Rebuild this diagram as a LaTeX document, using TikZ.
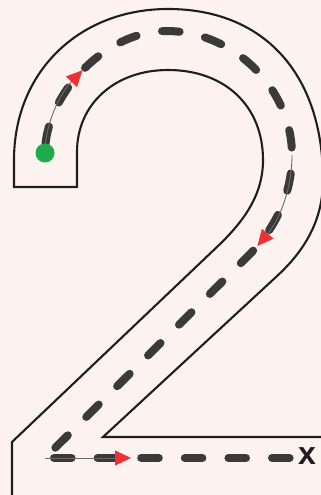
\documentclass[tikz,border=0pt]{standalone}
\usepackage{fontspec}
\setsansfont{Liberation Sans}
\usetikzlibrary{arrows.meta}
\definecolor{fig-paper}{HTML}{FCF3F0}
\definecolor{fig-ink}{HTML}{1E1E1E}
\definecolor{fig-lane}{HTML}{3A3A3A}
\definecolor{fig-guide}{HTML}{6A6A6A}
\definecolor{fig-arrow}{HTML}{EC3232}
\definecolor{fig-start}{HTML}{1FAA4E}

\begin{document}
\begin{tikzpicture}[
    x=1pt, y=-1pt,
    outline/.style={draw=fig-ink, line width=2.1pt, line join=miter},
    lane/.style={draw=fig-lane, line width=8pt, line cap=round, dash pattern=on 17.6pt off 26pt},
    guide/.style={draw=fig-guide, line width=0.9pt, -{Triangle[length=16pt, width=15pt, color=fig-arrow]}},
    startdot/.style={circle, fill=fig-start, minimum size=19pt, inner sep=0pt}
]
\useasboundingbox (0,0) rectangle (321,495);
\clip (0,0) rectangle (321,495);
\fill[fig-paper] (0,0) rectangle (321,495);

\draw[outline] (335,437) -- (103,437) -- (276,277) .. controls (300,255) and (323,225) .. (323,180)
    .. controls (323,74) and (264,9) .. (168,9)
    .. controls (79,9) and (14,72) .. (14,160)
    -- (14,187) -- (77,187) -- (77,152)
    .. controls (77,104) and (115,70) .. (168,70)
    .. controls (225,70) and (263,106) .. (263,160)
    .. controls (263,195) and (244,221) .. (218,246)
    -- (12,442) -- (12,505);

\coordinate (start) at (45,153);
\coordinate (bend) at (45,458);
\coordinate (rightmost) at (292,155);
\coordinate (lastdash) at (289.6,458);

\draw[lane, dash phase=29pt] (bend) -- (250,254) .. controls (275,228) and (292,195) .. (rightmost)
    .. controls (292,90) and (235,31) .. (166,31) .. controls (105,31) and (45,95) .. (start);
\draw[lane, dash phase=34.6pt] (bend) -- (lastdash);

\draw[guide] (start) .. controls (45,124) and (60,93.5) .. (82.6,70.25);
\draw[guide] (rightmost) .. controls (292,191) and (278.2,221.3) .. (257.4,246);
\draw[guide] (bend) -- (131,458);

\node[startdot] (origin) at (start) {};
\node[anchor=west, inner sep=0pt, text=fig-ink, font=\sffamily\bfseries\fontsize{32}{32}\selectfont] (finish) at (298,456.5) {x};
\end{tikzpicture}
\end{document}
